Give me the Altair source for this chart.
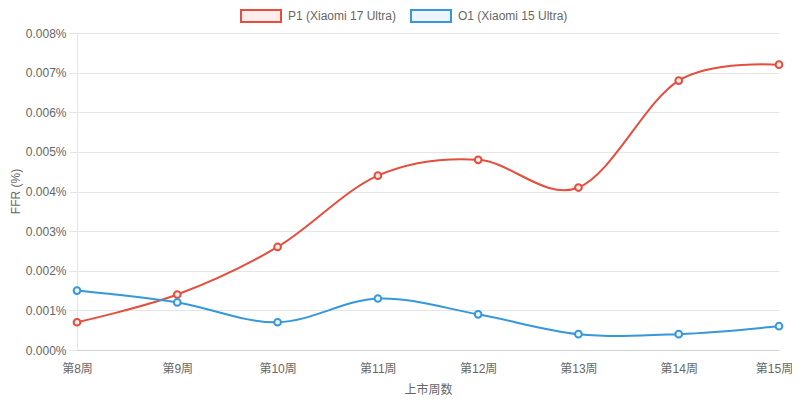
import altair as alt
import pandas as pd

weeks = ["第8周", "第9周", "第10周", "第11周", "第12周", "第13周", "第14周", "第15周"]
p1 = [0.0007, 0.0014, 0.0026, 0.0044, 0.0048, 0.0041, 0.0068, 0.0072]
o1 = [0.0015, 0.0012, 0.0007, 0.0013, 0.0009, 0.0004, 0.0004, 0.0006]
series_names = ["P1 (Xiaomi 17 Ultra)", "O1 (Xiaomi 15 Ultra)"]
y_ticks = [0, 0.001, 0.002, 0.003, 0.004, 0.005, 0.006, 0.007, 0.008]

rows = []
for w, a, b in zip(weeks, p1, o1):
    rows.append({"week": w, "series": series_names[0], "ffr": a})
    rows.append({"week": w, "series": series_names[1], "ffr": b})
df = pd.DataFrame(rows)

FONT = "Liberation Sans, Arial, Noto Sans CJK SC"
stroke_scale = alt.Scale(domain=series_names, range=["#e74c3c", "#3498db"])
fill_scale = alt.Scale(domain=series_names, range=["#fdeeec", "#ebf5fb"])

x = alt.X("week:N", sort=weeks, scale=alt.Scale(type="point", padding=0),
          axis=alt.Axis(title="上市周数", labelAngle=0, tickSize=0, labelPadding=13,
                        labelOffset={"condition": {"test": "datum.value === '第15周'", "value": -5}, "value": 0},
                        titlePadding=10, gridColor="#e5e5e5", domainColor="#d0d0d0"))
y = alt.Y("ffr:Q", scale=alt.Scale(domain=[0, 0.008], nice=False),
          axis=alt.Axis(title="FFR (%)", values=y_ticks,
                        labelExpr="format(datum.value, '.3f') + '%'",
                        tickSize=8, tickColor="#e5e5e5", labelPadding=3,
                        titleX=-55, titleY=158, titleBaseline="bottom",
                        gridColor="#e5e5e5", domainColor="#e5e5e5"))

legend = alt.Legend(title=None, orient="none", direction="horizontal",
                    legendX=163, legendY=-38,
                    symbolType="M-1,-0.3H1V0.3H-1Z", symbolSize=1600,
                    symbolStrokeWidth=2, labelFontSize=12, labelColor="#666666",
                    columnPadding=10, labelOffset=6)

line = alt.Chart(df).mark_line(interpolate="cardinal", strokeWidth=2).encode(
    x=x, y=y,
    stroke=alt.Stroke("series:N", scale=stroke_scale, sort=series_names, legend=legend),
    detail="series:N",
)
points = alt.Chart(df).mark_point(filled=False, size=45, strokeWidth=2, opacity=1, fillOpacity=1).encode(
    x=x, y=y,
    stroke=alt.Stroke("series:N", scale=stroke_scale, sort=series_names, legend=legend),
    fill=alt.Fill("series:N", scale=fill_scale, sort=series_names, legend=legend),
)

chart = alt.layer(line, points).properties(
    width=702, height=317,
    autosize=alt.AutoSizeParams(type="none"),
    padding={"left": 69, "top": 25, "right": 13, "bottom": 48},
).configure_view(stroke=None).configure_axis(
    labelFont=FONT, titleFont=FONT, labelFontSize=12, titleFontSize=12,
    labelColor="#666666", titleColor="#666666", titleFontWeight="normal",
).configure_legend(labelFont=FONT)

chart.save("out.html", embed_options={"renderer": "svg", "actions": False})
